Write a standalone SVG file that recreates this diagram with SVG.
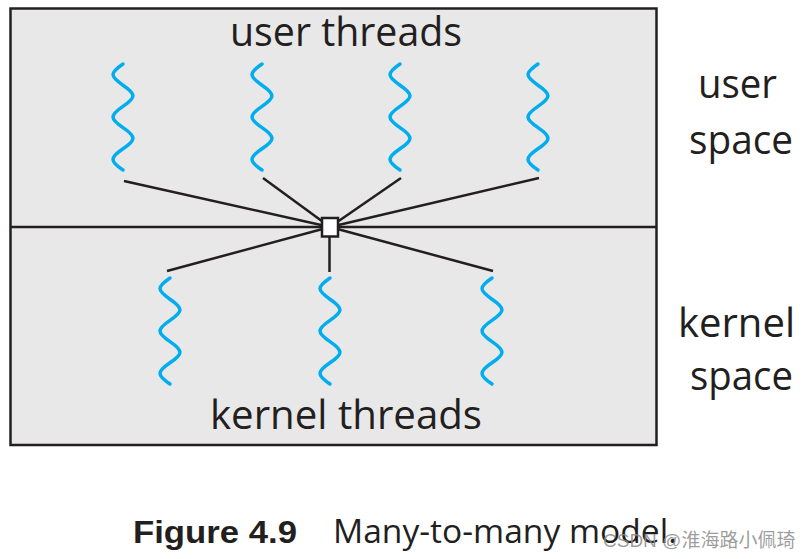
<svg xmlns="http://www.w3.org/2000/svg" xmlns:xlink="http://www.w3.org/1999/xlink" width="809" height="559" viewBox="0 0 809 559">
<style>
.lbl{font-family:"Open Sans","Noto Sans","DejaVu Sans",sans-serif;font-size:40px;fill:#231f20}
.ln{stroke:#231f20;stroke-width:2.5;fill:none}
.wv{stroke:#00aeef;stroke-width:3.5;fill:none;stroke-linecap:round}
.cap{font-family:"Liberation Sans",Arial,sans-serif;font-size:32px;fill:#231f20}
</style>
<defs>
<path id="w" d="M0,0 c-13.3,9 -13.3,12.2 0,21.2 s13.3,12.2 0,21.2 s-13.3,12.2 0,21.2 s13.3,12.2 0,21.2 s-13.3,12.2 0,21.2"/>
</defs>
<rect width="809" height="559" fill="#ffffff"/>
<g id="frame">
<rect x="10.5" y="8.5" width="646" height="436.5" fill="#e8e8e8" stroke="#231f20" stroke-width="2.5"/>
<line class="ln" x1="10" y1="227" x2="657" y2="227"/>
</g>
<g id="connectors">
<line class="ln" x1="124" y1="181" x2="330" y2="227"/>
<line class="ln" x1="263" y1="178" x2="330" y2="227"/>
<line class="ln" x1="401" y1="178" x2="330" y2="227"/>
<line class="ln" x1="539" y1="178" x2="330" y2="227"/>
<line class="ln" x1="167" y1="271" x2="330" y2="227"/>
<line class="ln" x1="329.5" y1="272" x2="329.5" y2="227"/>
<line class="ln" x1="493" y1="271" x2="330" y2="227"/>
</g>
<g id="mux">
<rect x="322" y="218" width="16" height="18.5" fill="#ffffff" stroke="#231f20" stroke-width="2.5"/>
</g>
<g id="user-threads">
<use xlink:href="#w" href="#w" class="wv" x="123" y="64"/>
<use xlink:href="#w" href="#w" class="wv" x="262" y="64"/>
<use xlink:href="#w" href="#w" class="wv" x="400" y="64"/>
<use xlink:href="#w" href="#w" class="wv" x="538" y="64"/>
</g>
<g id="kernel-threads">
<use xlink:href="#w" href="#w" class="wv" x="170" y="278"/>
<use xlink:href="#w" href="#w" class="wv" x="330" y="278"/>
<use xlink:href="#w" href="#w" class="wv" x="492" y="278"/>
</g>
<g id="labels">
<text class="lbl" x="346" y="46" text-anchor="middle" textLength="232" lengthAdjust="spacingAndGlyphs">user threads</text>
<text class="lbl" x="346" y="429" text-anchor="middle" textLength="272" lengthAdjust="spacingAndGlyphs">kernel threads</text>
<text class="lbl" x="737.5" y="98" text-anchor="middle" textLength="79" lengthAdjust="spacingAndGlyphs">user</text>
<text class="lbl" x="741" y="154" text-anchor="middle" textLength="104" lengthAdjust="spacingAndGlyphs">space</text>
<text class="lbl" x="736.5" y="337" text-anchor="middle" textLength="117" lengthAdjust="spacingAndGlyphs">kernel</text>
<text class="lbl" x="741.5" y="390" text-anchor="middle" textLength="103" lengthAdjust="spacingAndGlyphs">space</text>
</g>
<g id="caption">
<text class="cap" x="133" y="543" font-weight="bold" textLength="164" lengthAdjust="spacingAndGlyphs">Figure 4.9</text>
<text class="lbl" x="333" y="543" font-size="33" style="font-size:33px" textLength="344" lengthAdjust="spacingAndGlyphs">Many-to-many model.</text>
<text x="603" y="547" font-family="'Liberation Sans','Noto Sans CJK SC',sans-serif" font-size="19" fill="#8c8c8c" fill-opacity="0.85">CSDN @淮海路小佩琦</text>
</g>
</svg>
